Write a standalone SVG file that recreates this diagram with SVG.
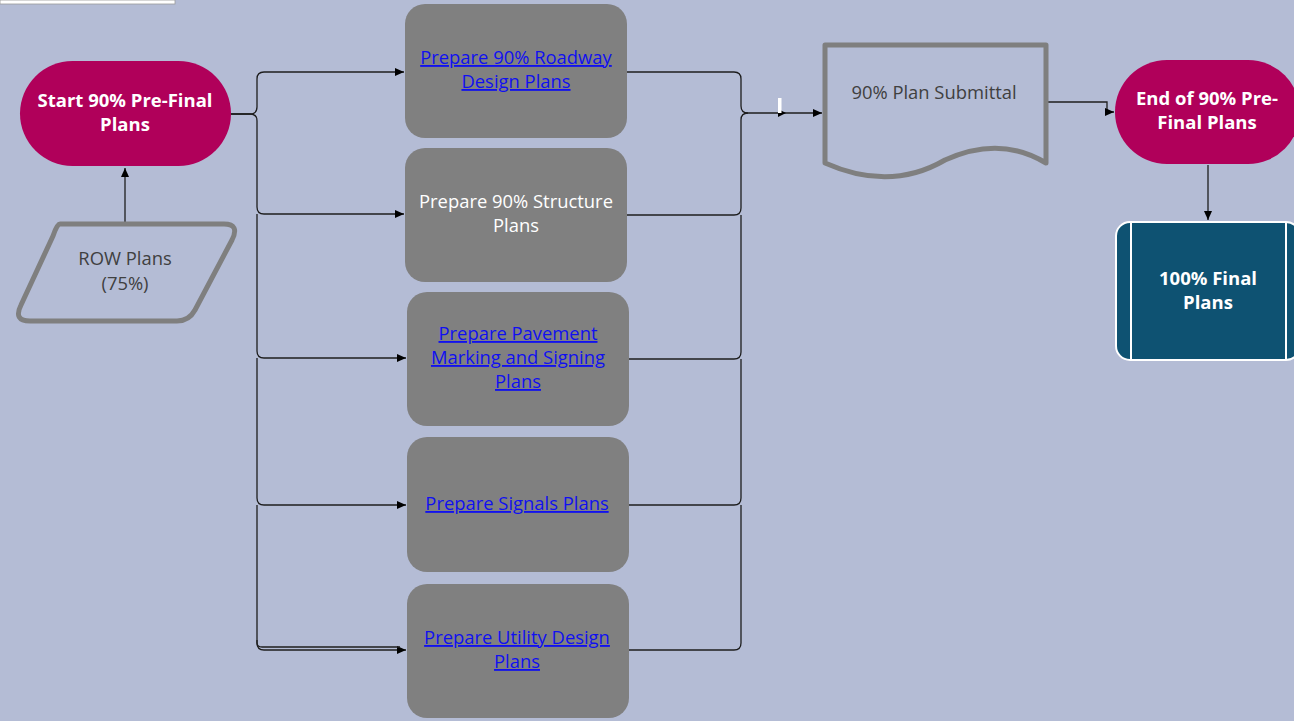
<svg xmlns="http://www.w3.org/2000/svg" width="1294" height="721" viewBox="0 0 1294 721">
<style>
.t{font-family:"Open Sans","Noto Sans","Liberation Sans",sans-serif;text-anchor:middle}
.b{font-weight:bold;fill:#fff;font-size:18.5px}
.w{fill:#fff;font-size:18.4px}
.lk{fill:#1010F0;font-size:18.4px;text-decoration:underline}
.g{fill:#404040;font-size:18.4px}
.proc{fill:#808080}
.c{fill:none;stroke:#1e1e1e;stroke-width:1.3}
</style>
<defs>
<marker id="ah" markerWidth="10" markerHeight="10" refX="9" refY="5" orient="auto" markerUnits="userSpaceOnUse">
<path d="M0,1 L9,5 L0,9 Z" fill="#000"/>
</marker>
</defs>
<rect width="1294" height="721" fill="#B4BCD5"/>
<rect x="0" y="0" width="175" height="4" fill="#fff" stroke="#999" stroke-width="0.8"/>

<g id="connectors">
<path class="c" d="M125,222 V168" marker-end="url(#ah)" stroke-width="2"/>
<path class="c" d="M231,114 H250 Q257,114 257,107 V79 Q257,72 264,72 H404" marker-end="url(#ah)" stroke="#555"/>
<path class="c" d="M231,114 H250 Q257,114 257,121 V207 Q257,214 264,214 H404" marker-end="url(#ah)"/>
<path class="c" d="M257,214 V351 Q257,358 264,358 H406" marker-end="url(#ah)"/>
<path class="c" d="M257,358 V498 Q257,505 264,505 H406" marker-end="url(#ah)"/>
<path class="c" d="M257,505 V643 Q257,650 264,650 H406" marker-end="url(#ah)"/>
<path class="c" d="M257,640 V643 Q257,647 262,647 H400"/>
<path class="c" d="M627,72 H734 Q741,72 741,79 V106 Q741,113 748,113 H822" marker-end="url(#ah)" stroke="#555"/>
<path class="c" d="M627,215 H734 Q741,215 741,208 V120 Q741,113 748,113"/>
<path class="c" d="M629,359 H734 Q741,359 741,352 V215"/>
<path class="c" d="M629,505 H734 Q741,505 741,498 V359"/>
<path class="c" d="M629,650 H734 Q741,650 741,643 V505"/>
<path d="M778,109 L786,113 L778,117 Z" fill="#000"/>
<rect x="778" y="98" width="3.5" height="15" fill="#fff"/>
<path class="c" d="M1047,102 H1107 V112 H1114" marker-end="url(#ah)"/>
<path class="c" d="M1208,165 V220" marker-end="url(#ah)"/>
</g>

<g id="start">
<rect x="20" y="61" width="211" height="105" rx="52.5" fill="#B0005A"/>
<text class="t b" x="125" y="107">Start 90% Pre-Final</text>
<text class="t b" x="125" y="131">Plans</text>
</g>

<g id="row">
<path d="M60,224 H224 Q240,224 232,240 L195,310 Q189,321 177,321 H30 Q13,321 21,305 L53,236 Q57,224 60,224 Z" fill="none" stroke="#7F7F7F" stroke-width="5" stroke-linejoin="round"/>
<text class="t g" x="125" y="265">ROW Plans</text>
<text class="t g" x="125" y="290">(75%)</text>
</g>

<g id="p1">
<rect class="proc" x="405" y="4" width="222" height="134" rx="20"/>
<text class="t lk" x="516" y="64">Prepare 90% Roadway</text>
<text class="t lk" x="516" y="88">Design Plans</text>
</g>
<g id="p2">
<rect class="proc" x="405" y="148" width="222" height="134" rx="20"/>
<text class="t w" x="516" y="208">Prepare 90% Structure</text>
<text class="t w" x="516" y="232">Plans</text>
</g>
<g id="p3">
<rect class="proc" x="407" y="292" width="222" height="134" rx="20"/>
<text class="t lk" x="518" y="340">Prepare Pavement</text>
<text class="t lk" x="518" y="364">Marking and Signing</text>
<text class="t lk" x="518" y="388">Plans</text>
</g>
<g id="p4">
<rect class="proc" x="407" y="437" width="222" height="135" rx="20"/>
<text class="t lk" x="517" y="510">Prepare Signals Plans</text>
</g>
<g id="p5">
<rect class="proc" x="407" y="584" width="222" height="134" rx="20"/>
<text class="t lk" x="517" y="644">Prepare Utility Design</text>
<text class="t lk" x="517" y="668">Plans</text>
</g>

<g id="submittal">
<path d="M825,45 H1046 V163 Q1000,135 945,160 Q890,192 825,163 Z" fill="none" stroke="#7F7F7F" stroke-width="5" stroke-linejoin="round"/>
<text class="t g" x="934" y="99">90% Plan Submittal</text>
</g>

<g id="end">
<rect x="1115" y="60" width="185" height="104" rx="52" fill="#B0005A"/>
<text class="t b" x="1207" y="105">End of 90% Pre-</text>
<text class="t b" x="1207" y="129">Final Plans</text>
</g>

<g id="final">
<rect x="1116" y="222" width="184" height="138" rx="14" fill="#0E5272" stroke="#fff" stroke-width="2"/>
<line x1="1131" y1="222" x2="1131" y2="360" stroke="#fff" stroke-width="2"/>
<line x1="1286" y1="222" x2="1286" y2="360" stroke="#fff" stroke-width="2"/>
<text class="t b" x="1208" y="285">100% Final</text>
<text class="t b" x="1208" y="309">Plans</text>
</g>
</svg>
